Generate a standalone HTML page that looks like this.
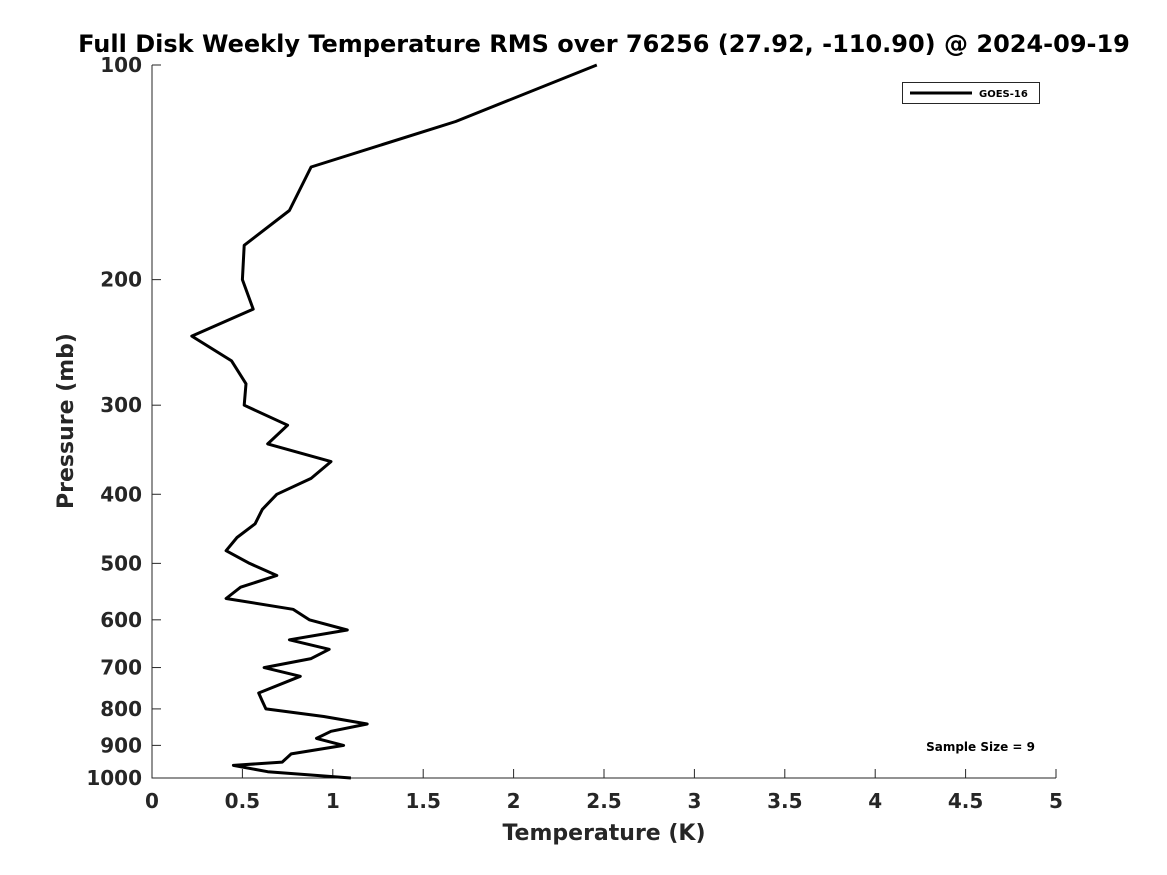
<!DOCTYPE html>
<html><head><meta charset="utf-8"><style>
body{margin:0;background:#fff;}
svg{display:block;font-family:"DejaVu Sans","Liberation Sans",sans-serif;}
</style></head><body>
<svg id="chart" width="1167" height="875" viewBox="0 0 1167 875"></svg>
<script>
const pressures=[100,120,139,160,179,200,220,240,260,280,300,320,340,360,380,400,420,440,460,480,500,520,540,560,580,600,620,640,660,680,700,720,760,780,800,820,840,860,880,900,925,950,960,980,1000];
const rmsValues=[2.46,1.68,0.88,0.76,0.51,0.50,0.56,0.22,0.44,0.52,0.51,0.75,0.64,0.99,0.88,0.69,0.61,0.57,0.47,0.41,0.54,0.69,0.49,0.41,0.78,0.87,1.08,0.76,0.98,0.88,0.62,0.82,0.59,0.61,0.63,0.95,1.19,0.99,0.91,1.06,0.77,0.72,0.45,0.64,1.10];
const xTicks=[0,0.5,1,1.5,2,2.5,3,3.5,4,4.5,5];
const xTickLabels=["0","0.5","1","1.5","2","2.5","3","3.5","4","4.5","5"];
const yTicks=[100,200,300,400,500,600,700,800,900,1000];

const svg=document.getElementById('chart');
const NS='http://www.w3.org/2000/svg';
const L=152,R=1056,T=65,B=778;
const xs=v=>L+(v-0)/(5-0)*(R-L);
const ys=p=>T+Math.log10(p/100)*(B-T);
function mk(tag,attrs,text){const e=document.createElementNS(NS,tag);for(const k in attrs)e.setAttribute(k,attrs[k]);if(text!==undefined)e.textContent=text;svg.appendChild(e);return e;}

let t=mk('text',{x:604,y:52,'text-anchor':'middle','font-size':24,'font-weight':'bold',fill:'#000'},'Full Disk Weekly Temperature RMS over 76256 (27.92, -110.90) @ 2024-09-19');



let ax=mk('path',{d:`M${L},${T}V${B}H${R}`,fill:'none',stroke:'#262626','stroke-width':1});



xTicks.forEach((v,i)=>{
  const x=xs(v);
  const tk=mk('line',{x1:x,x2:x,y1:B,y2:B-9,stroke:'#262626','stroke-width':1});
  
  
  const lb=mk('text',{x:x,y:808,'text-anchor':'middle','font-size':20,'font-weight':'bold',fill:'#262626'},xTickLabels[i]);
  
  
});
yTicks.forEach(p=>{
  const y=ys(p);
  const tk=mk('line',{x1:L,x2:L+9,y1:y,y2:y,stroke:'#262626','stroke-width':1});
  
  
  const lb=mk('text',{x:142,y:y+7,'text-anchor':'end','font-size':20,'font-weight':'bold',fill:'#262626'},String(p));
  
  
});

let xt=mk('text',{x:604,y:840,'text-anchor':'middle','font-size':22,'font-weight':'bold',fill:'#262626'},'Temperature (K)');


let yt=mk('text',{x:0,y:0,'text-anchor':'middle','font-size':22,'font-weight':'bold',fill:'#262626',transform:'translate(73,421) rotate(-90)'},'Pressure (mb)');



const d=pressures.map((p,i)=>(i?'L':'M')+xs(rmsValues[i]).toFixed(1)+','+ys(p).toFixed(1)).join('');
let ln=mk('path',{d:d,fill:'none',stroke:'#000','stroke-width':3,'stroke-linejoin':'round'});



let lg=mk('rect',{x:902.5,y:82.5,width:137,height:21,fill:'#fff',stroke:'#262626','stroke-width':1});


let ll=mk('line',{x1:910,x2:972,y1:93,y2:93,stroke:'#000','stroke-width':3});


let lt=mk('text',{x:979,y:97,'font-size':10,'font-weight':'bold',fill:'#000'},'GOES-16');



let ss=mk('text',{x:1035,y:751,'text-anchor':'end','font-size':12,'font-weight':'bold',fill:'#000'},'Sample Size = 9');


</script>
</body></html>
